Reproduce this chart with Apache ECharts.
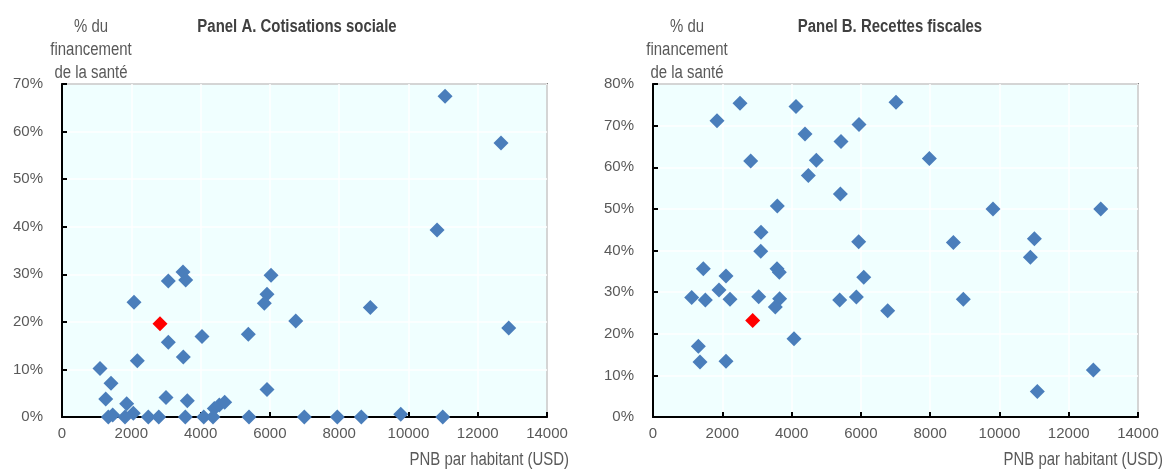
<!DOCTYPE html>
<html>
<head>
<meta charset="utf-8">
<script src="https://cdn.jsdelivr.net/npm/echarts@6/dist/echarts.min.js"></script>
<style>
html,body{margin:0;padding:0;background:#fff;}
#c{width:1166px;height:470px;}
</style>
</head>
<body>
<div id="c"></div>
<script>
// Panel A: social contributions (% of health financing) vs GNP per capita (USD)
const panelA_gnp = [11057,12673,10826,12895,8900,6747,6034,5918,5840,5378,5918,3493,3571,3069,2079,3069,3502,4042,2174,1097,1415,1262,1868,2058,3002,3617,4397,4541,4697,1337,1464,1819,2491,2792,3560,4091,4359,5398,6995,7948,8640,9778,10990];
const panelA_share = [67.4,57.6,39.3,18.7,23.0,20.2,29.8,25.8,23.9,17.4,5.8,30.5,28.8,28.6,24.1,15.7,12.6,16.9,11.8,10.2,7.1,3.8,2.8,0.8,4.1,3.4,1.8,2.5,3.1,0,0.4,0,0,0,0,0,0,0,0,0,0,0.6,0];
const panelA_highlight_gnp = [2829];
const panelA_highlight_share = [19.6];

// Panel B: tax revenues (% of health financing) vs GNP per capita (USD)
const panelB_gnp = [2512,1848,4128,7015,5947,4388,5427,2820,4715,4484,5408,3589,3118,5938,3110,1453,2107,3580,3647,1905,1116,1511,2223,3051,3656,3531,4070,1309,1357,2107,5389,5870,6083,6775,7977,9815,12924,8670,11008,10893,8958,12711,11094];
const panelB_share = [75.4,71.2,74.6,75.6,70.3,68.0,66.2,61.5,61.7,58.0,53.6,50.7,44.4,42.1,39.8,35.6,33.9,35.6,34.8,30.5,28.7,28.1,28.3,28.9,28.4,26.4,18.8,17.0,13.2,13.4,28.1,28.8,33.6,25.5,62.1,50.0,50.0,41.9,42.8,38.4,28.3,11.3,6.1];
const panelB_highlight_gnp = [2877];
const panelB_highlight_share = [23.2];

const titles = ['Panel A. Cotisations sociale', 'Panel B. Recettes fiscales'];
const yName = '% du\nfinancement\nde la santé';
const xName = 'PNB par habitant (USD)';

const pairs = (xs, ys) => xs.map((x, i) => [x, ys[i]]);

const FONT = '"Liberation Sans", Arial, sans-serif';
const TXT = '#595959';

function xAxis(gi) {
  return {
    type: 'value', gridIndex: gi, min: 0, max: 14000, interval: 2000,
    axisLine: {show: true, onZero: false, lineStyle: {color: '#000', width: 2}},
    axisTick: {show: true, inside: true, length: 5, lineStyle: {color: '#000', width: 2}},
    axisLabel: {color: TXT, fontFamily: FONT, fontSize: 15, margin: 9, formatter: v => String(v)},
    splitLine: {show: true, lineStyle: {color: '#fff', width: 1.5}}
  };
}
function yAxis(gi, max) {
  return {
    type: 'value', gridIndex: gi, min: 0, max: max, interval: 10,
    axisLine: {show: true, onZero: false, lineStyle: {color: '#000', width: 2}},
    axisTick: {show: true, inside: true, length: 5, lineStyle: {color: '#000', width: 2}},
    axisLabel: {color: TXT, fontFamily: FONT, fontSize: 15, margin: 19, formatter: '{value}%'},
    splitLine: {show: true, lineStyle: {color: '#fff', width: 1.5}}
  };
}
function scatter(gi, data, color) {
  return {
    type: 'scatter', xAxisIndex: gi, yAxisIndex: gi, data: data,
    symbol: 'diamond', symbolSize: 15,
    itemStyle: {color: color, opacity: 1},
    silent: true, animation: false
  };
}
function label(x, y, text, align, bold) {
  return {type: 'text', x: x, y: y, scaleX: 0.83, scaleY: 1,
    style: {text: text, textAlign: align, textVerticalAlign: 'middle',
      fill: bold ? '#404040' : TXT, font: (bold ? 'bold ' : '') + '18px ' + FONT, lineHeight: 23}};
}

const chart = echarts.init(document.getElementById('c'), null, {renderer: 'canvas'});
chart.setOption({
  animation: false,
  grid: [
    {left: 62, top: 84, width: 485, height: 333, show: true, backgroundColor: '#F0FFFF', borderColor: '#222', borderWidth: 1.5},
    {left: 653, top: 84, width: 485, height: 333, show: true, backgroundColor: '#F0FFFF', borderColor: '#222', borderWidth: 1.5}
  ],
  xAxis: [xAxis(0), xAxis(1)],
  yAxis: [yAxis(0, 70), yAxis(1, 80)],
  series: [
    scatter(0, pairs(panelA_gnp, panelA_share), '#4A7EBB'),
    scatter(0, pairs(panelA_highlight_gnp, panelA_highlight_share), '#FF0000'),
    scatter(1, pairs(panelB_gnp, panelB_share), '#4A7EBB'),
    scatter(1, pairs(panelB_highlight_gnp, panelB_highlight_share), '#FF0000')
  ],
  graphic: [
    label(297, 27, titles[0], 'center', true),
    label(890, 27, titles[1], 'center', true),
    label(91, 50, yName, 'center', false),
    label(687, 50, yName, 'center', false),
    label(569, 460, xName, 'right', false),
    label(1163, 460, xName, 'right', false)
  ]
});
</script>
</body>
</html>
